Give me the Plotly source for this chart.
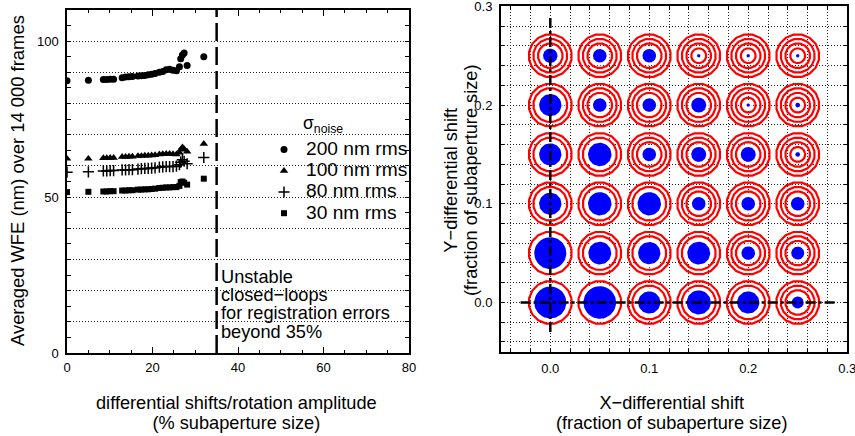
import numpy as np
import plotly.graph_objects as go

# ---------------- Left panel data ----------------
shift_pct = [0, 5, 8.5, 9.3, 10.1, 10.9, 12.9, 13.7, 14.5, 15.3, 16.6, 17.4, 18.2, 19.0,
             19.8, 20.6, 21.6, 22.4, 23.2, 24.0, 24.8, 25.6, 26.3, 26.6, 27.0, 27.4, 28.1, 32.0]
wfe_200 = [87.3, 87.5, 87.7, 87.7, 87.8, 87.8, 88.3, 88.5, 88.6, 88.7, 88.8, 88.9, 89.0, 89.2,
           89.4, 89.6, 90.0, 90.3, 90.8, 91.0, 90.7, 90.5, 91.8, 94.4, 95.6, 96.2, 92.2, 95.0]
wfe_100 = [62.3, 62.3, 62.5, 62.5, 62.6, 62.6, 62.9, 62.9, 63.0, 63.0, 63.2, 63.2, 63.3, 63.3,
           63.4, 63.5, 63.7, 63.8, 63.9, 63.9, 63.8, 63.7, 64.3, 65.2, 66.0, 65.4, 64.6, 67.1]
wfe_80 = [58.0, 58.1, 58.4, 58.4, 58.5, 58.5, 58.7, 58.7, 58.8, 58.8, 59.0, 59.1, 59.2, 59.2,
          59.3, 59.4, 59.6, 59.7, 59.8, 59.8, 59.8, 59.9, 60.4, 61.2, 62.0, 61.5, 60.7, 62.7]
wfe_30 = [51.6, 51.7, 51.8, 51.8, 51.9, 51.9, 52.1, 52.1, 52.2, 52.2, 52.4, 52.4, 52.5, 52.5,
          52.6, 52.7, 52.9, 53.0, 53.1, 53.1, 53.2, 53.2, 53.6, 54.8, 55.0, 54.6, 54.0, 55.9]
series_names = ["200 nm rms", "100 nm rms", "80 nm rms", "30 nm rms"]
unstable_limit = 35
left_x_range = [0, 80]
left_y_range = [0, 110]
left_y_grid = list(range(0, 111, 10))
left_y_labels = {0: "0", 50: "50", 100: "100"}
unstable_lines = ["Unstable", "closed\u2212loops", "for registration errors", "beyond 35%"]

# ---------------- Right panel data ----------------
shift_x = [0, 0.05, 0.1, 0.15, 0.2, 0.25]
shift_y = [0, 0.05, 0.1, 0.15, 0.2, 0.25]
# blue disc radius (fraction of subaperture) ; rows follow shift_y, columns follow shift_x
blue_radius = [
    [0.0177, 0.0180, 0.0128, 0.0138, 0.0128, 0.0076],
    [0.0177, 0.0131, 0.0128, 0.0131, 0.0084, 0.0081],
    [0.0128, 0.0134, 0.0134, 0.0084, 0.0084, 0.0084],
    [0.0128, 0.0134, 0.0084, 0.0091, 0.0091, 0.0040],
    [0.0128, 0.0084, 0.0084, 0.0091, 0.0033, 0.0040],
    [0.0088, 0.0084, 0.0084, 0.0033, 0.0033, 0.0033],
]
ring_radii = [0.0075, 0.0125, 0.0172, 0.0218]
cross_extent = [-0.03, 0.29]
right_range = [-0.05, 0.3001]
right_tick_values = [0.0, 0.1, 0.2, 0.3]
right_tick_labels = ["0.0", "0.1", "0.2", "0.3"]
right_grid_step = 0.02

FONT = "Liberation Sans, Arial, Helvetica, sans-serif"
W, H = 855, 436
TITLE_SIZE = 18.2


def px(x):
    return x / W


def py(y):
    return 1 - y / H


def poly(cx, cy, r, n, phase):
    t = np.linspace(0, 2 * np.pi, n + 1) + phase
    return list(cx + r * np.cos(t)) + [None], list(cy + r * np.sin(t)) + [None]


def big(text, size=TITLE_SIZE):
    return '<span style="font-size:%spx">%s</span>' % (size, text)


fig = go.Figure()

# ----- left panel traces -----
symbols = [
    dict(symbol="circle", size=7, color="black"),
    dict(symbol="triangle-up", size=7.5, color="black"),
    dict(symbol="cross-thin", size=8, color="black", line=dict(width=1.5, color="black")),
    dict(symbol="square", size=6, color="black"),
]
for name, vals, mk in zip(series_names, [wfe_200, wfe_100, wfe_80, wfe_30], symbols):
    fig.add_trace(go.Scatter(
        x=shift_pct, y=vals, mode="markers", marker=mk,
        name=big(name, 19.2),
        xaxis="x", yaxis="y", showlegend=True))

# ----- right panel traces -----
rx, ry = [], []
bx, by = [], []
for j, yc in enumerate(shift_y):
    for i, xc in enumerate(shift_x):
        for r in ring_radii:
            a, b = poly(xc, yc, r, 16, np.pi / 16)
            rx += a
            ry += b
        a, b = poly(xc, yc, blue_radius[j][i], 48, 0)
        bx += a
        by += b

fig.add_trace(go.Scatter(x=rx, y=ry, mode="lines", line=dict(color="#FF0000", width=2.2),
                         xaxis="x2", yaxis="y2", showlegend=False, hoverinfo="skip"))
fig.add_trace(go.Scatter(x=bx, y=by, mode="lines", fill="toself", fillcolor="#0000FF",
                         line=dict(color="white", width=3),
                         xaxis="x2", yaxis="y2", showlegend=False, hoverinfo="skip"))
cross_style = dict(color="black", width=2.5, dash="10px,3px,3px,3px")
fig.add_trace(go.Scatter(x=cross_extent, y=[0, 0], mode="lines", line=cross_style,
                         xaxis="x2", yaxis="y2", showlegend=False, hoverinfo="skip"))
fig.add_trace(go.Scatter(x=[0, 0], y=cross_extent, mode="lines", line=cross_style,
                         xaxis="x2", yaxis="y2", showlegend=False, hoverinfo="skip"))

# ----- axes -----
tickfont = dict(family=FONT, size=13, color="black")
grid_dash = "1px,2px"
grid_color = "#222"

left_dom_x = [px(67), px(409)]
left_dom_y = [py(353), py(10)]
right_dom_x = [px(500.8), px(847.3)]
right_dom_y = [py(351.8), py(6.3)]

common = dict(ticks="inside", tickwidth=1, tickcolor="black", mirror="allticks",
              showline=True, linecolor="black", linewidth=1.5, zeroline=False,
              tickfont=tickfont, automargin=False, ticklabeloverflow="allow")
right_axis = dict(range=right_range, tickmode="array", tickvals=right_tick_values,
                  ticktext=right_tick_labels, ticklen=3.5,
                  showgrid=True, gridcolor=grid_color, gridwidth=1, griddash=grid_dash,
                  ticklabelstandoff=4,
                  minor=dict(tick0=0, dtick=right_grid_step, ticks="inside", ticklen=3.5,
                             tickcolor="black", showgrid=True, gridcolor=grid_color,
                             gridwidth=1, griddash=grid_dash),
                  **common)

fig.update_layout(
    width=W, height=H,
    margin=dict(l=0, r=0, t=0, b=0, autoexpand=False),
    paper_bgcolor="white", plot_bgcolor="white",
    font=dict(family=FONT, color="black"),
    xaxis=dict(domain=left_dom_x, range=left_x_range, anchor="y",
               tickmode="linear", tick0=0, dtick=20, ticklen=6,
               showgrid=False, ticklabelstandoff=2,
               minor=dict(dtick=5, ticks="inside", ticklen=3, tickcolor="black", showgrid=False),
               **common),
    yaxis=dict(domain=left_dom_y, range=left_y_range, anchor="x",
               tickmode="array", tickvals=left_y_grid,
               ticktext=[left_y_labels.get(v, "") for v in left_y_grid],
               ticklen=4, showgrid=True, gridcolor=grid_color, gridwidth=1, griddash=grid_dash,
               ticklabelstandoff=4,
               minor=dict(dtick=5, tick0=0, ticks="inside", ticklen=4, tickcolor="black",
                          showgrid=False),
               **common),
    xaxis2=dict(domain=right_dom_x, anchor="y2", **right_axis),
    yaxis2=dict(domain=right_dom_y, anchor="x2", **right_axis),
    legend=dict(x=px(262), y=py(134), xanchor="left", yanchor="top",
                bgcolor="rgba(0,0,0,0)", borderwidth=0,
                font=dict(family=FONT, size=14, color="black"),
                itemsizing="trace", itemwidth=34),
)

fig.add_shape(type="line", xref="x", yref="y domain", x0=unstable_limit, x1=unstable_limit,
              y0=0, y1=1, line=dict(color="black", width=2.5, dash="18px,6px"))

anns = []


def ann(text, x, y, size=14, xanchor="center", yanchor="middle", angle=0, align="center"):
    anns.append(dict(text=text, x=px(x), y=py(y), xref="paper", yref="paper",
                     showarrow=False, xanchor=xanchor, yanchor=yanchor, textangle=angle,
                     align=align, borderpad=0,
                     font=dict(family=FONT, size=size, color="black")))


ann(big("Averaged WFE (nm) over 14 000 frames", 18.4), 17, 181, size=18.4, angle=-90)
ann(big("differential shifts/rotation amplitude") + "<br>" + big("(% subaperture size)"),
    237, 413, size=15.2)
ann(big("X\u2212differential shift") + "<br>" + big("(fraction of subaperture size)"),
    672, 413, size=15.2)
ann(big("Y\u2212differential shift") + "<br>" + big("(fraction of subaperture size)"),
    461, 180, size=15.2, angle=-90)
ann("\u03c3<sub>noise</sub>", 302, 124, size=17.5, xanchor="left")
ann("<br>".join(big(s) for s in unstable_lines), 220, 304, size=14,
    xanchor="left", align="left")

fig.update_layout(annotations=anns)
fig.write_html("out.html", config={"displayModeBar": False},
               post_script="document.body.style.margin='0px';")
